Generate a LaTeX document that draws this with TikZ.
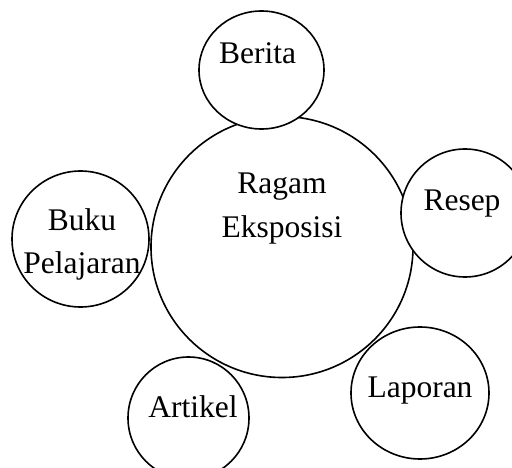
\documentclass[tikz,border=0pt]{standalone}
\usepackage{fontspec}
\setmainfont{Liberation Serif}
\usetikzlibrary{shapes.geometric}

\begin{document}
\begin{tikzpicture}[x=1pt,y=-1pt,line width=1.6pt,
  bubble/.style={draw,fill=white,ellipse,inner sep=0pt},
  word/.style={anchor=base,inner sep=0pt,font=\fontsize{31.5}{40}\selectfont}]
\useasboundingbox (0,0) rectangle (512,468);
\clip (0,0) rectangle (512,468);
\node at (282,247) [bubble,minimum width=262,minimum height=261] (ragam) {};
\node at (261.5,70) [bubble,minimum width=125,minimum height=118] (berita) {};
\node at (465,213) [bubble,minimum width=128,minimum height=128] (resep) {};
\node at (80.5,239) [bubble,minimum width=137,minimum height=136] (buku) {};
\node at (188.5,418) [bubble,minimum width=121,minimum height=122] (artikel) {};
\node at (420,393) [bubble,minimum width=138,minimum height=132] (laporan) {};
% labels
\node at ([yshift=53]ragam.center) [word] {Ragam};
\node at ([yshift=10]ragam.center) [word] {Eksposisi};
\node at ([xshift=-4,yshift=6]berita.center) [word] {Berita};
\node at ([xshift=-3,yshift=2]resep.center) [word] {Resep};
\node at ([xshift=1.5,yshift=8]buku.center) [word] {Buku};
\node at ([xshift=1.5,yshift=-34]buku.center) [word] {Pelajaran};
\node at ([xshift=4.5,yshift=1]artikel.center) [word] {Artikel};
\node at ([yshift=-4]laporan.center) [word] {Laporan};
\end{tikzpicture}
\end{document}
